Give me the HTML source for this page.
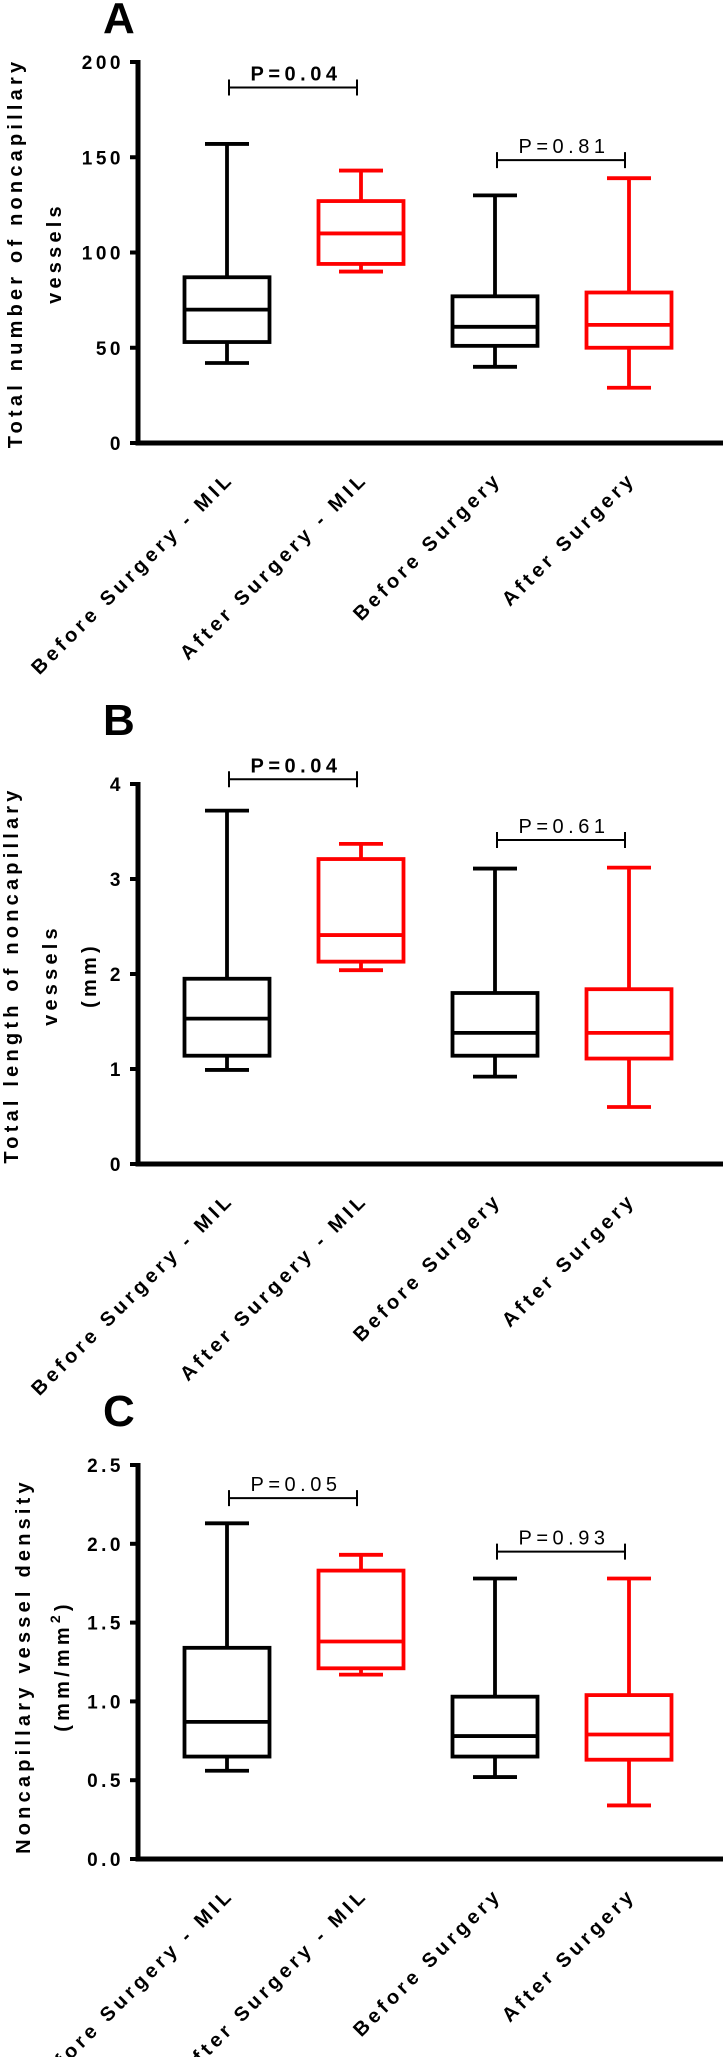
<!DOCTYPE html>
<html><head><meta charset="utf-8"><style>
html,body{margin:0;padding:0;background:#fff;}
svg{display:block;}
text{font-family:"Liberation Sans",Arial,sans-serif;}
</style></head><body>
<svg id="fig" width="723" height="2057" viewBox="0 0 723 2057" xmlns="http://www.w3.org/2000/svg"></svg>
<script>
const categories = ["Before Surgery - MIL","After Surgery - MIL","Before Surgery","After Surgery"];
const colors = ["#000","#f00","#000","#f00"];
// [min, q1, median, q3, max]
const boxesA = [[42,53,70,87,157],[90,94,110,127,143],[40,51,61,77,130],[29,50,62,79,139]];
const boxesB = [[0.99,1.14,1.53,1.95,3.72],[2.04,2.13,2.41,3.21,3.37],[0.92,1.14,1.38,1.80,3.11],[0.60,1.11,1.38,1.84,3.12]];
const boxesC = [[0.56,0.65,0.87,1.34,2.13],[1.17,1.21,1.38,1.83,1.93],[0.52,0.65,0.78,1.03,1.78],[0.34,0.63,0.79,1.04,1.78]];
const ticksA = [0,50,100,150,200];
const ticksB = [0,1,2,3,4];
const ticksC = [0,0.5,1,1.5,2,2.5];
const tickLabelsA = ["0","50","100","150","200"];
const tickLabelsB = ["0","1","2","3","4"];
const tickLabelsC = ["0.0","0.5","1.0","1.5","2.0","2.5"];
const bracketsA = [[0,1,186.6,"P=0.04",true],[2,3,148.5,"P=0.81",false]];
const bracketsB = [[0,1,4.05,"P=0.04",true],[2,3,3.41,"P=0.61",false]];
const bracketsC = [[0,1,2.29,"P=0.05",false],[2,3,1.95,"P=0.93",false]];

const NS="http://www.w3.org/2000/svg";
const svg=document.getElementById('fig');
function mk(tag,attrs,parent){const e=document.createElementNS(NS,tag);for(const k in attrs)e.setAttribute(k,attrs[k]);(parent||svg).appendChild(e);return e;}

function panel(key,letter,letterY,y0,y1,ymax,boxes,ticks,tickLabels,brackets,ylabLines,ylabX,ylabY){
  const g=mk('g',{});
  
  
  const yS=v=>y0-(v/ymax)*(y0-y1);
  const xS=i=>227+i*134;
  const L=mk('text',{x:103,y:letterY,'font-size':44,'font-weight':'bold'},g);L.textContent=letter;
  
  
  const ax=mk('path',{d:`M138,${y1-2} L138,${y0} L723,${y0}`,stroke:'#000','stroke-width':5,fill:'none'},g);
  
  
  ticks.forEach((t,i)=>{
    const y=yS(t);
    const tk=mk('line',{x1:130,x2:138,y1:y,y2:y,stroke:'#000','stroke-width':4},g);
    
    
    const tl=mk('text',{x:124,y:y+7,'font-size':19,'font-weight':'bold','text-anchor':'end','letter-spacing':3.5},g);
    tl.textContent=tickLabels[i];
    
    
  });
  const yl=mk('text',{transform:`translate(${ylabX},${ylabY}) rotate(-90)`,'font-size':20,'font-weight':'bold','text-anchor':'middle','letter-spacing':4.2},g);
  
  
  ylabLines.forEach((ln,i)=>{const ts=mk('tspan',{x:0,dy:i===0?0:39},yl);ts.innerHTML=ln;});
  boxes.forEach((b,i)=>{
    const cx=xS(i),c=colors[i];
    const bg=mk('g',{stroke:c,'stroke-width':3.8,fill:'none'},g);
    
    
    mk('line',{x1:cx,x2:cx,y1:yS(b[0]),y2:yS(b[1])},bg);
    mk('line',{x1:cx,x2:cx,y1:yS(b[3]),y2:yS(b[4])},bg);
    mk('line',{x1:cx-22,x2:cx+22,y1:yS(b[0]),y2:yS(b[0])},bg);
    mk('line',{x1:cx-22,x2:cx+22,y1:yS(b[4]),y2:yS(b[4])},bg);
    mk('rect',{x:cx-42.5,y:yS(b[3]),width:85,height:yS(b[1])-yS(b[3])},bg);
    mk('line',{x1:cx-42.5,x2:cx+42.5,y1:yS(b[2]),y2:yS(b[2])},bg);
    const xl=mk('text',{transform:`translate(${cx+8},${y0+37}) rotate(-45)`,'font-size':20,'font-weight':'bold','text-anchor':'end','letter-spacing':4.0},g);
    xl.textContent=categories[i];
    
    
  });
  brackets.forEach(br=>{
    const xa=xS(br[0])+2,xb=xS(br[1])-4,y=yS(br[2]);
    const bk=mk('path',{d:`M${xa},${y-8} V${y+8} M${xa},${y} H${xb} M${xb},${y-8} V${y+8}`,stroke:'#000','stroke-width':2,fill:'none'},g);
    
    
    const pt=mk('text',{x:(xa+xb)/2+3,y:y-7,'font-size':20,'font-weight':br[4]?'bold':'normal','text-anchor':'middle','letter-spacing':4.5},g);
    pt.textContent=br[3];
    
    
  });
}
panel('a','A',33,443,62,200,boxesA,ticksA,tickLabelsA,bracketsA,["Total number of noncapillary","vessels"],22,253);
panel('b','B',735,1164,784,4,boxesB,ticksB,tickLabelsB,bracketsB,["Total length of noncapillary","vessels","(mm)"],18,975);
panel('c','C',1426,1859,1465,2.5,boxesC,ticksC,tickLabelsC,bracketsC,["Noncapillary vessel density","(mm/mm<tspan dy='-9' font-size='14'>2</tspan><tspan dy='9'>)</tspan>"],30,1666);
</script>
</body></html>
